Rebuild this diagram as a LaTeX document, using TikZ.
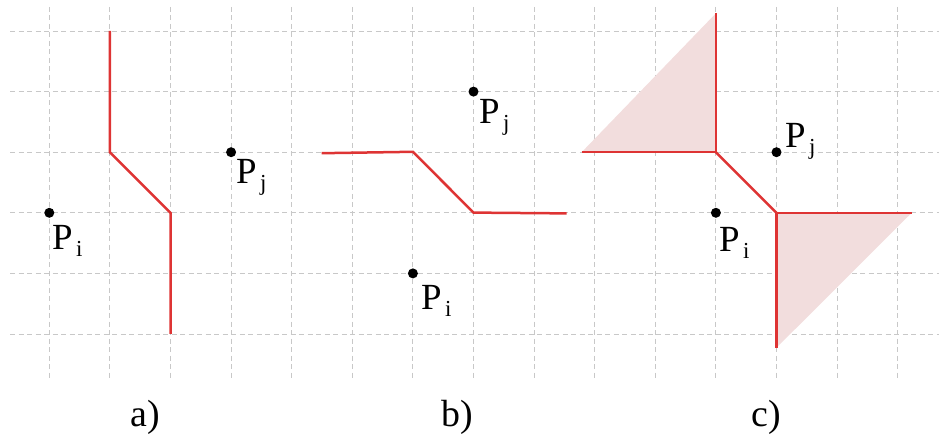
\documentclass[tikz,border=0pt]{standalone}
\usepackage{fontspec}
\setmainfont{Liberation Serif}
\definecolor{gridgray}{RGB}{200,200,200}
\definecolor{vred}{RGB}{222,52,52}
\definecolor{vpink}{RGB}{242,221,221}
\newcommand{\labfont}{\fontsize{37}{37}\selectfont}
\newcommand{\subfnt}{\fontsize{23}{23}\selectfont}
\newcommand{\Pl}[1]{P\hspace{3.5bp}\raisebox{-7bp}{\subfnt #1}}
\begin{document}
\begin{tikzpicture}[x=1bp,y=-1bp,
  gridline/.style={draw=gridgray,line width=0.9bp,dash pattern=on 5bp off 3.5bp},
  bisector/.style={draw=vred,line width=2.5bp,line join=miter},
  region/.style={fill=vpink,draw=none},
  site/.style={circle,fill=black,inner sep=0pt,minimum size=10bp},
  plabel/.style={anchor=base west,inner sep=0pt,font=\labfont},
  caption/.style={anchor=base west,inner sep=0pt,font=\fontsize{38}{38}\selectfont}]
\useasboundingbox (0,0) rectangle (939,435);
% grid
\foreach \r in {31,91.6,152.2,212.8,273.4,334}
  \draw[gridline] (10,\r) -- (939,\r);
\foreach \c in {49.3,109.9,170.5,231.1,291.7,352.3,412.9,473.5,534.1,594.7,655.3,715.9,776.5,837.1,897.7}
  \draw[gridline] (\c,7) -- (\c,380);
% panel a
\coordinate (a1) at (109.9,31);
\coordinate (a2) at (109.9,152.2);
\coordinate (a3) at (170.5,212.8);
\coordinate (a4) at (170.5,334);
\draw[bisector] (a1) -- (a2) -- (a3) -- (a4);
\node[site] (ai) at (49.3,212.8) {};
\node[site] (aj) at (231.1,152.2) {};
\node[plabel] (ail) at (52,250) {\Pl{i}};
\node[plabel] (ajl) at (236,184) {\Pl{j}};
\node[caption] (capa) at (130,426) {a)};
% panel b
\coordinate (b1) at (321.7,153.2);
\coordinate (b2) at (412.9,151.8);
\coordinate (b3) at (473.5,212.6);
\coordinate (b4) at (566.7,213.4);
\draw[bisector] (b1) -- (b2) -- (b3) -- (b4);
\node[site] (bi) at (412.9,273.4) {};
\node[site] (bj) at (473.5,91.6) {};
\node[plabel] (bil) at (421,310) {\Pl{i}};
\node[plabel] (bjl) at (479,124) {\Pl{j}};
\node[caption] (capb) at (441.5,426) {b)};
% panel c
\coordinate (c1) at (581.7,152.2);
\coordinate (c2) at (715.9,152.2);
\coordinate (c3) at (715.9,13.3);
\coordinate (c4) at (776.5,212.8);
\coordinate (c5) at (911.7,212.8);
\coordinate (c6) at (776.5,347.7);
\fill[region] (c1) -- (c2) -- (c3) -- cycle;
\fill[region] (c4) -- (c5) -- (c6) -- cycle;
\draw[bisector] (c1) -- (c2);
\draw[bisector] (c3) -- (c2);
\draw[bisector] (c2) -- (c4);
\draw[bisector] (c4) -- (c5);
\draw[bisector] (c4) -- (c6);
\node[site] (ci) at (715.9,212.8) {};
\node[site] (cj) at (776.5,152.2) {};
\node[plabel] (cil) at (719,252) {\Pl{i}};
\node[plabel] (cjl) at (785,148) {\Pl{j}};
\node[caption] (capc) at (751.5,426) {c)};
\end{tikzpicture}
\end{document}
